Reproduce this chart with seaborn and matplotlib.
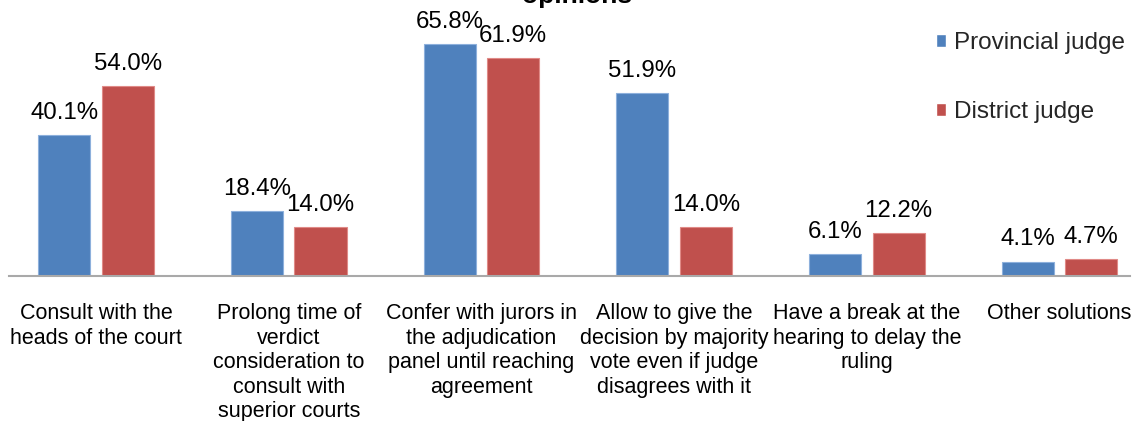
import matplotlib
matplotlib.use("Agg")
import matplotlib.pyplot as plt
import seaborn as sns
import pandas as pd

categories = [
    "Consult with the\nheads of the court",
    "Prolong time of\nverdict\nconsideration to\nconsult with\nsuperior courts",
    "Confer with jurors in\nthe adjudication\npanel until reaching\nagreement",
    "Allow to give the\ndecision by majority\nvote even if judge\ndisagrees with it",
    "Have a break at the\nhearing to delay the\nruling",
    "Other solutions",
]
provincial = [40.1, 18.4, 65.8, 51.9, 6.1, 4.1]
district = [54.0, 14.0, 61.9, 14.0, 12.2, 4.7]
series_names = ["Provincial judge", "District judge"]
colors = ["#4F81BD", "#C0504D"]
edge_colors = ["#8DB0DC", "#E08A87"]
title_text = "opinions"

df = pd.DataFrame({
    "category": categories * 2,
    "value": provincial + district,
    "series": [series_names[0]] * len(categories) + [series_names[1]] * len(categories),
})

sns.set_theme(style="white")
plt.rcParams["font.family"] = ["Liberation Sans", "DejaVu Sans"]

W, H = 1138, 421
fig = plt.figure(figsize=(W / 100, H / 100), dpi=100)
ax = fig.add_axes([9 / W, (H - 276) / H, (1130 - 9) / W, 276 / H])

sns.barplot(data=df, x="category", y="value", hue="series", order=categories,
            hue_order=series_names, palette=colors, width=0.66, gap=0.18,
            saturation=1, ax=ax, legend=True)

for cont, ec in zip(ax.containers, edge_colors):
    for p in cont:
        p.set_edgecolor(ec)
        p.set_linewidth(0.8)
    ax.bar_label(cont, labels=[f"{v:.1f}%" for v in cont.datavalues],
                 padding=8, fontsize=17.3, color="#000000")

ax.set_xlim(-0.4515, 5.366)
ax.set_ylim(0, 78.3)
ax.set_xlabel("")
ax.set_ylabel("")
ax.set_yticks([])
for s in ["top", "right", "left"]:
    ax.spines[s].set_visible(False)
ax.spines["bottom"].set_color("#A9A9A9")
ax.spines["bottom"].set_linewidth(1.5)
ax.tick_params(axis="x", length=0, pad=19.5, labelsize=15.5, colors="#000000")
for lbl in ax.get_xticklabels():
    lbl.set_linespacing(1.22)
    lbl.set_multialignment("center")

handles, labels = ax.get_legend_handles_labels()
ax.legend(handles, labels, loc="upper left", bbox_to_anchor=(936 / W, 1 - 32 / H),
          bbox_transform=fig.transFigure, frameon=False, fontsize=17.5,
          handlelength=0.42, handleheight=0.42, handletextpad=0.32,
          labelspacing=1.95, borderpad=0, borderaxespad=0)

fig.text(577 / W, 1 - 3 / H, title_text, ha="center", va="baseline",
         fontsize=19, fontweight="bold", color="#000000")

fig.savefig("out.png", dpi=100)
